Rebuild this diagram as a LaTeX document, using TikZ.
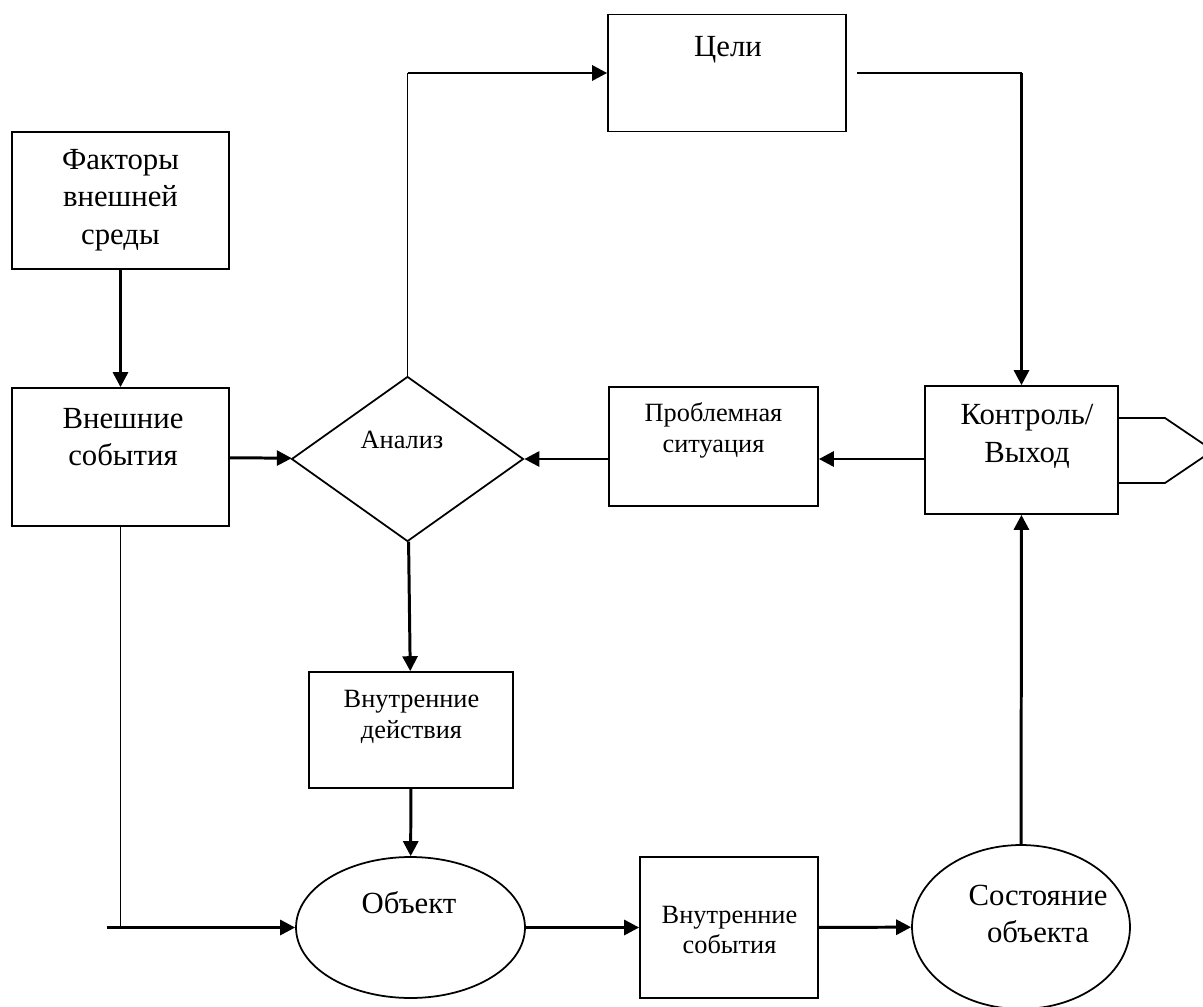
\documentclass[tikz,border=0pt]{standalone}
\usepackage{fontspec}
\setmainfont{Liberation Serif}
\usetikzlibrary{arrows.meta,shapes.geometric}

\begin{document}
\begin{tikzpicture}
  [x=0.02cm,y=-0.02cm,
   box/.style={draw,line width=1pt,rectangle,inner sep=0pt},
   oval/.style={draw,line width=1pt,ellipse,inner sep=0pt},
   big/.style={align=center,inner sep=0pt,font=\fontsize{17.5}{21.5}\selectfont},
   small/.style={align=center,inner sep=0pt,font=\fontsize{15}{17.6}\selectfont},
   thickline/.style={line width=1.7pt},
   thinline/.style={line width=0.85pt},
   arr/.style={-{Triangle[length=8.5pt,width=8.5pt]}}]
  \useasboundingbox (0,0) rectangle (1203,1007);

  % shapes
  \node[box,minimum width=4.34cm,minimum height=2.74cm] (fac) at (120.5,200.5) {};
  \node[box,minimum width=4.34cm,minimum height=2.76cm] (ext) at (120.5,457) {};
  \node[box,minimum width=4.76cm,minimum height=2.34cm] (goal) at (727,73) {};
  \node[draw,line width=1pt,diamond,inner sep=0pt,
        minimum width=4.64cm,minimum height=3.3cm] (ana) at (407.5,459) {};
  \node[box,minimum width=4.18cm,minimum height=2.38cm] (prob) at (713.5,446.5) {};
  \node[box,minimum width=3.86cm,minimum height=2.56cm] (ctl) at (1021.5,450) {};
  \node[box,minimum width=4.08cm,minimum height=2.32cm] (act) at (411,730) {};
  \node[oval,minimum width=4.58cm,minimum height=2.82cm] (obj) at (410.5,927.5) {};
  \node[box,minimum width=3.56cm,minimum height=2.82cm] (ev) at (729,927.5) {};
  \node[oval,minimum width=4.36cm,minimum height=3.28cm] (st) at (1021,927) {};

  % output notch of the control box
  \draw[line width=1pt] (1118,418) -- (1165,418) -- (1213,450.5) -- (1165,483) -- (1118,483);

  % texts
  \node[big] (fac-t) at (120.5,200) {Факторы\\внешней\\среды};
  \node[big] (ext-t) at (123,437) {Внешние\\события};
  \node[big] (goal-t) at (728,50) {Цели};
  \node[small] (ana-t) at (402,440) {Анализ};
  \node[small] (prob-t) at (713.5,430.5) {Проблемная\\ситуация};
  \node[big] (ctl-t) at (1027,436) {Контроль/\\Выход};
  \node[small] (act-t) at (411.5,717) {Внутренние\\действия};
  \node[big] (obj-t) at (409,903) {Объект};
  \node[small] (ev-t) at (729.5,930) {Внутренние\\события};
  \node[big] (st-t) at (1038,914) {Состояние\\объекта};

  % connectors
  \foreach \from/\to in {fac/ext,ext/ana,ana/act,act/obj,obj/ev,ev/st,st/ctl}
    \draw[thickline,arr] (\from) -- (\to);
  \draw[thickline,arr] (prob.west |- ana.east) -- (ana.east);
  \draw[thickline,arr] (ctl.west |- ana.east) -- (prob.east |- ana.east);

  \coordinate (up) at (ana.north |- goal.west);
  \draw[thinline] (ana.north) -- (up);
  \draw[thickline,arr] (up) -- (goal.west);

  \coordinate (rt) at (ctl.north |- goal.east);
  \draw[thinline] ([xshift=6]goal.east) -- (rt);
  \draw[thickline,arr] (rt) -- (ctl.north);

  \coordinate (dn) at (ext.south |- obj.west);
  \coordinate (lf) at (107,927.5);
  \draw[thinline] (ext.south) -- (dn);
  \draw[thickline,arr] (lf) -- (obj.west);
\end{tikzpicture}
\end{document}
